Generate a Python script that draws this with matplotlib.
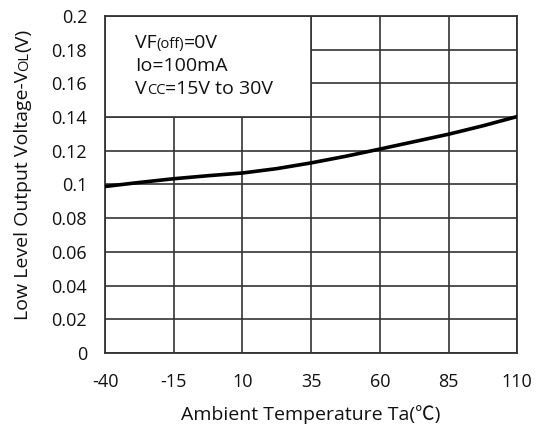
import matplotlib
matplotlib.use("Agg")
import matplotlib.pyplot as plt
from matplotlib.patches import Rectangle

plt.rcParams['font.family'] = ['Open Sans', 'Noto Sans CJK SC', 'DejaVu Sans']

# data
temp = [-40, -27.5, -15, -2.5, 10, 22.5, 35, 47.5, 60, 72.5, 85, 97.5, 110]
vol = [0.0988, 0.1012, 0.1034, 0.1052, 0.1068, 0.1094, 0.1128, 0.1167, 0.1210, 0.1254, 0.1298, 0.1348, 0.1403]
xticks = [-40, -15, 10, 35, 60, 85, 110]
yticks = [0, 0.02, 0.04, 0.06, 0.08, 0.1, 0.12, 0.14, 0.16, 0.18, 0.2]
ytick_labels = ['0', '0.02', '0.04', '0.06', '0.08', '0.1', '0.12', '0.14', '0.16', '0.18', '0.2']

gc = '#333333'
fs = 13
lfs = 14

fig = plt.figure(figsize=(5.36, 4.29), dpi=100)
ax = fig.add_axes([0.196, 0.177, 0.769, 0.786])
ax.set_xlim(-40, 110)
ax.set_ylim(0, 0.2)
ax.set_xticks(xticks)
ax.set_xticklabels([str(t) for t in xticks])
ax.set_yticks(yticks)
ax.set_yticklabels(ytick_labels)
ax.tick_params(axis='y', length=0, labelsize=fs, pad=13, colors='#111111')
ax.tick_params(axis='x', length=0, labelsize=fs, pad=14, colors='#111111')
ax.grid(True, color=gc, lw=1.2)
ax.set_axisbelow(True)
for s in ax.spines.values():
    s.set_color(gc)
    s.set_linewidth(1.3)

# white box behind the conditions text
ax.add_patch(Rectangle((-40, 0.14), 75, 0.06, facecolor='white', edgecolor=gc, lw=1.2, zorder=1))

ax.plot(temp, vol, color='black', lw=2.6, zorder=3)

fig.canvas.draw()
r = fig.canvas.get_renderer()

def chain(pieces, x, y, rot=0):
    # pieces: (text, size); placed one after another in pixel coords
    for txt, size in pieces:
        t = fig.text(x, y, txt, fontsize=size, rotation=rot, color='#111111',
                     transform=None, va='baseline', ha='left', rotation_mode='anchor')
        bb = t.get_window_extent(r)
        if rot == 0:
            x += bb.width
        else:
            y += bb.height

H = 429
chain([('VF', lfs), ('(off)', 10.5), ('=0V', lfs)], 135, H - 48)
chain([('Io=100mA', lfs)], 135, H - 71)
chain([('V', lfs), ('CC', 10.5), ('=15V to 30V', lfs)], 135, H - 94)

# y label, rotated
chain([('Low Level Output Voltage-V', lfs), ('OL', 10.5), ('(V)', lfs)], 28, H - 320, rot=90)

fig.text((105 + 517) / 2 / 536, 1 - 420 / H, 'Ambient Temperature Ta(℃)', fontsize=lfs,
         ha='center', va='baseline', color='#111111')

fig.savefig('out.png', dpi=100)
